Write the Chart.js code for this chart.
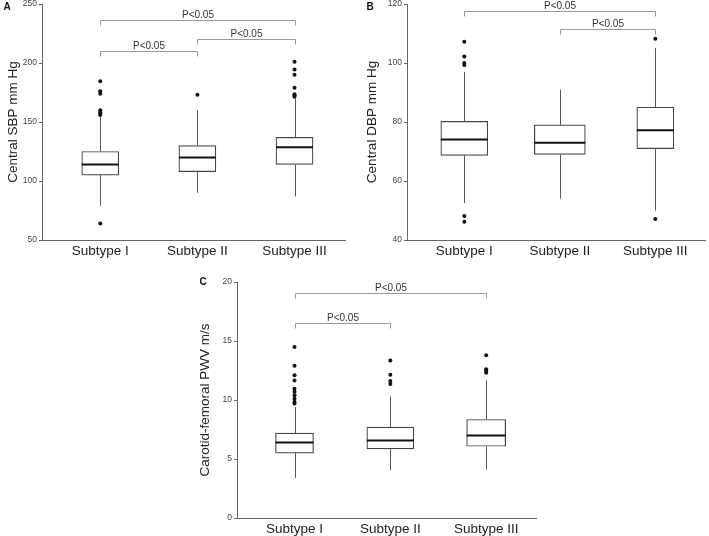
<!DOCTYPE html>
<html lang="en">
<head>
  <meta charset="UTF-8">
  <title>Central pressure and PWV by subtype</title>
  <script src="https://cdn.jsdelivr.net/npm/chart.js"></script>
  <style>
    body { margin: 0; background: #fff; width: 709px; height: 536px; position: relative; overflow: hidden; }
    .panel { position: absolute; }
    .panel canvas { display: block; }
  </style>
</head>
<body>
  <div class="panel" style="left:0;top:0"><canvas id="chartA" width="355" height="265"></canvas></div>
  <div class="panel" style="left:355px;top:0"><canvas id="chartB" width="354" height="265"></canvas></div>
  <div class="panel" style="left:180px;top:265px"><canvas id="chartC" width="360" height="271"></canvas></div>

  <script>
    const categories = ['Subtype I', 'Subtype II', 'Subtype III'];

    // A - central SBP
    const sbpLow = [79, 90, 87];
    const sbpQ1 = [105, 108, 114];
    const sbpMedian = [114, 120, 128.5];
    const sbpQ3 = [125, 130, 137];
    const sbpHigh = [154, 160, 170];
    const sbpOutliers = [[64, 156, 157, 158, 160, 174, 176, 184.5], [173], [171.5, 172.5, 173.5, 179, 190, 194.5, 201]];
    const sbpTicks = [50, 100, 150, 200, 250];
    const sbpPairs = [[1, 2], [2, 3], [1, 3]];
    const sbpPairLevels = [210.5, 220, 236.5];

    // B - central DBP
    const dbpLow = [52.5, 54, 50];
    const dbpQ1 = [68.7, 69, 71];
    const dbpMedian = [74.1, 73, 77.2];
    const dbpQ3 = [80.2, 79, 85];
    const dbpHigh = [97, 91, 105];
    const dbpOutliers = [[46.2, 48.1, 99.3, 100, 102.2, 107.2], [], [47.1, 108.2]];
    const dbpTicks = [40, 60, 80, 100, 120];
    const dbpPairs = [[1, 3], [2, 3]];
    const dbpPairLevels = [117.7, 111.4];

    // C - carotid-femoral PWV
    const pwvLow = [3.4, 4.05, 4.1];
    const pwvQ1 = [5.5, 5.85, 6.08];
    const pwvMedian = [6.4, 6.56, 7.0];
    const pwvQ3 = [7.2, 7.7, 8.35];
    const pwvHigh = [9.4, 10.3, 11.65];
    const pwvOutliers = [[9.7, 9.85, 10.1, 10.4, 10.7, 10.95, 11.65, 12.1, 12.9, 14.5], [11.35, 11.6, 12.15, 13.35], [12.3, 12.45, 12.6, 13.8]];
    const pwvTicks = [0, 5, 10, 15, 20];
    const pwvPairs = [[1, 3], [1, 2]];
    const pwvPairLevels = [19.1, 16.5];

    Chart.defaults.font.family = '"Liberation Sans", Arial, sans-serif';

    // whiskers, medians, comparison brackets and panel letter
    const boxExtras = {
      id: 'boxExtras',
      afterDatasetsDraw(chart, args, o) {
        const { ctx, scales: { x, y } } = chart;
        ctx.save();
        o.median.forEach((m, i) => {
          const el = chart.getDatasetMeta(i).data[0];
          const px = Math.round(x.getPixelForValue(i + 1)) + 0.5;
          ctx.strokeStyle = '#555';
          ctx.lineWidth = 1;
          ctx.beginPath();
          ctx.moveTo(px, y.getPixelForValue(o.low[i]));
          ctx.lineTo(px, y.getPixelForValue(o.q1[i]));
          ctx.moveTo(px, y.getPixelForValue(o.q3[i]));
          ctx.lineTo(px, y.getPixelForValue(o.high[i]));
          ctx.stroke();
          const my = y.getPixelForValue(m);
          ctx.strokeStyle = '#111';
          ctx.lineWidth = 2;
          ctx.beginPath();
          ctx.moveTo(el.x - el.width / 2, my);
          ctx.lineTo(el.x + el.width / 2, my);
          ctx.stroke();
        });

        ctx.strokeStyle = '#9a9a9a';
        ctx.lineWidth = 1;
        ctx.fillStyle = '#333';
        ctx.font = '10px "Liberation Sans", Arial, sans-serif';
        ctx.textAlign = 'center';
        ctx.textBaseline = 'alphabetic';
        o.pairs.forEach((p, k) => {
          const x1 = Math.round(x.getPixelForValue(p[0])) + 0.5;
          const x2 = Math.round(x.getPixelForValue(p[1])) + 0.5;
          const ly = Math.round(y.getPixelForValue(o.levels[k])) + 0.5;
          ctx.beginPath();
          ctx.moveTo(x1, ly + 5);
          ctx.lineTo(x1, ly);
          ctx.lineTo(x2, ly);
          ctx.lineTo(x2, ly + 5);
          ctx.stroke();
          ctx.fillText('P<0.05', (x1 + x2) / 2, ly - 3);
        });

        ctx.fillStyle = '#111';
        ctx.font = 'bold 10px "Liberation Sans", Arial, sans-serif';
        ctx.textAlign = 'center';
        ctx.textBaseline = 'middle';
        ctx.fillText(o.tag, o.tagX, o.tagY);
        ctx.restore();
      }
    };

    function makeBoxChart(cfg) {
      const datasets = categories.map((c, i) => ({
        type: 'bar',
        label: c,
        data: [{ x: i + 1, y: [cfg.q1[i], cfg.q3[i]] }],
        barThickness: cfg.widths[i],
        grouped: false,
        backgroundColor: '#fff',
        borderColor: '#444',
        borderWidth: 1.2,
        borderSkipped: false
      }));
      datasets.push({
        type: 'scatter',
        label: 'outliers',
        data: cfg.outliers.flatMap((list, i) => list.map(v => ({ x: i + 1, y: v }))),
        pointRadius: 2,
        pointBackgroundColor: '#111',
        pointBorderWidth: 0
      });

      return new Chart(document.getElementById(cfg.id), {
        type: 'bar',
        data: { datasets },
        options: {
          responsive: false,
          animation: false,
          layout: { padding: cfg.pad },
          plugins: {
            legend: { display: false },
            tooltip: { enabled: false },
            boxExtras: {
              low: cfg.low, q1: cfg.q1, median: cfg.median, q3: cfg.q3, high: cfg.high,
              pairs: cfg.pairs, levels: cfg.levels,
              tag: cfg.tag, tagX: cfg.tagX, tagY: cfg.tagY
            }
          },
          scales: {
            x: {
              type: 'linear',
              min: 0.4,
              max: 3.52,
              offset: false,
              afterBuildTicks: s => { s.ticks = categories.map((c, i) => ({ value: i + 1 })); },
              afterFit: s => { s.height = cfg.xHeight; s.paddingLeft = 0; s.paddingRight = 0; },
              ticks: {
                callback: v => categories[v - 1],
                color: '#222',
                font: { size: 13.5 },
                padding: 3,
                maxRotation: 0
              },
              grid: { display: false, drawTicks: false, tickLength: 0 },
              border: { display: true, color: '#666' }
            },
            y: {
              min: cfg.ticks[0],
              max: cfg.ticks[cfg.ticks.length - 1],
              afterBuildTicks: s => { s.ticks = cfg.ticks.map(v => ({ value: v })); },
              afterFit: s => { s.width = cfg.yWidth; s.paddingTop = 0; s.paddingBottom = 0; },
              ticks: { color: '#444', font: { size: 8.5 }, padding: 2 },
              grid: { drawOnChartArea: false, tickLength: 3, color: '#666' },
              border: { color: '#666' },
              title: {
                display: true,
                text: cfg.title,
                color: '#222',
                font: { size: 13.5 },
                padding: { top: cfg.titlePad, bottom: 0 }
              }
            }
          }
        },
        plugins: [boxExtras]
      });
    }

    makeBoxChart({
      id: 'chartA', tag: 'A', tagX: 7, tagY: 7, title: 'Central SBP mm Hg',
      low: sbpLow, q1: sbpQ1, median: sbpMedian, q3: sbpQ3, high: sbpHigh,
      outliers: sbpOutliers, ticks: sbpTicks, pairs: sbpPairs, levels: sbpPairLevels,
      widths: [37, 37, 37], yWidth: 42, xHeight: 25, titlePad: 5,
      pad: { top: 3, right: 10, bottom: 0, left: 0 }
    });

    makeBoxChart({
      id: 'chartB', tag: 'B', tagX: 15, tagY: 7, title: 'Central DBP mm Hg',
      low: dbpLow, q1: dbpQ1, median: dbpMedian, q3: dbpQ3, high: dbpHigh,
      outliers: dbpOutliers, ticks: dbpTicks, pairs: dbpPairs, levels: dbpPairLevels,
      widths: [47, 51, 37], yWidth: 52, xHeight: 25, titlePad: 9,
      pad: { top: 3, right: 0, bottom: 0, left: 0 }
    });

    makeBoxChart({
      id: 'chartC', tag: 'C', tagX: 23, tagY: 17, title: 'Carotid-femoral PWV m/s',
      low: pwvLow, q1: pwvQ1, median: pwvMedian, q3: pwvQ3, high: pwvHigh,
      outliers: pwvOutliers, ticks: pwvTicks, pairs: pwvPairs, levels: pwvPairLevels,
      widths: [38, 47, 39], yWidth: 57, xHeight: 18, titlePad: 17,
      pad: { top: 17, right: 2, bottom: 0, left: 0 }
    });
  </script>
</body>
</html>
